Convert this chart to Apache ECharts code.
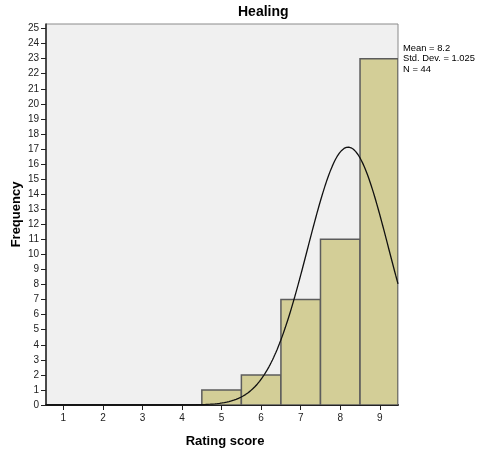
<!DOCTYPE html>
<html>
<head>
<meta charset="utf-8">
<script src="https://cdn.jsdelivr.net/npm/echarts@6/dist/echarts.min.js"></script>
<style>
  html, body { margin: 0; padding: 0; background: #fff; }
  #chart { width: 477px; height: 454px; }
</style>
</head>
<body>
<div id="chart"></div>
<script>
// Histogram of rating scores with a fitted normal curve
const scores = [1, 2, 3, 4, 5, 6, 7, 8, 9];
const frequencies = [0, 0, 0, 0, 1, 2, 7, 11, 23];
const yTicks = [0,1,2,3,4,5,6,7,8,9,10,11,12,13,14,15,16,17,18,19,20,21,22,23,24,25];
const xTicks = [1, 2, 3, 4, 5, 6, 7, 8, 9];
const meanValue = 8.2;
const stdDev = 1.025;
const sampleSize = 44;
const binWidth = 1;
const statsLines = ['Mean = 8.2', 'Std. Dev. = 1.025', 'N = 44'];

const xMin = 0.56, xMax = 9.46, yMax = 25.3;

// Normal density scaled to counts
function normalCount(x) {
  const z = (x - meanValue) / stdDev;
  return sampleSize * binWidth * Math.exp(-0.5 * z * z) / (stdDev * Math.sqrt(2 * Math.PI));
}
const curve = [];
const steps = 300;
for (let i = 0; i <= steps; i++) {
  const x = xMin + (xMax - xMin) * i / steps;
  curve.push([x, normalCount(x)]);
}

const bars = scores.map((s, i) => [s, frequencies[i]]).filter(d => d[1] > 0);

const chart = echarts.init(document.getElementById('chart'), null, { renderer: 'canvas' });
const font = '"Liberation Sans", Arial, sans-serif';

chart.setOption({
  animation: false,
  title: {
    text: 'Healing',
    left: 238, top: 5, padding: 0,
    textStyle: { fontFamily: font, fontSize: 14, fontWeight: 'bold', color: '#000' }
  },
  graphic: [{
    type: 'text', left: 403, top: 43,
    style: {
      text: statsLines.join('\n'),
      fontFamily: font, fontSize: 9.4, lineHeight: 10.5, fill: '#000'
    }
  }],
  grid: {
    left: 46, right: 79, top: 24, bottom: 49,
    outerBoundsMode: 'none', containLabel: false,
    show: true, backgroundColor: '#F0F0F0', borderColor: '#8a8a8a', borderWidth: 1
  },
  xAxis: {
    type: 'value', min: xMin, max: xMax,
    name: 'Rating score', nameLocation: 'middle', nameGap: 30, nameMoveOverlap: false,
    nameTextStyle: { fontFamily: font, fontSize: 13, fontWeight: 'bold', color: '#000', padding: [0, 0, 0, 6] },
    axisLine: { show: true, onZero: false, lineStyle: { color: '#222', width: 2 } },
    axisTick: { show: true, length: 5, customValues: xTicks, lineStyle: { color: '#222', width: 1 } },
    axisLabel: { customValues: xTicks, margin: 8, fontFamily: font, fontSize: 10, color: '#222' },
    splitLine: { show: false }
  },
  yAxis: {
    type: 'value', min: 0, max: yMax,
    name: 'Frequency', nameLocation: 'middle', nameGap: 23, nameRotate: 90, nameMoveOverlap: false,
    nameTextStyle: { fontFamily: font, fontSize: 13, fontWeight: 'bold', color: '#000' },
    axisLine: { show: true, lineStyle: { color: '#222', width: 1.5 } },
    axisTick: { show: true, length: 5, customValues: yTicks, lineStyle: { color: '#222', width: 1 } },
    axisLabel: { customValues: yTicks, margin: 7, fontFamily: font, fontSize: 10, color: '#222' },
    splitLine: { show: false }
  },
  series: [
    {
      type: 'custom',
      data: bars,
      clip: true,
      renderItem: function (params, api) {
        const x = api.value(0), y = api.value(1);
        const p0 = api.coord([x - binWidth / 2, 0]);
        const p1 = api.coord([x + binWidth / 2, y]);
        const shape = echarts.graphic.clipRectByRect(
          { x: p0[0], y: p1[1], width: p1[0] - p0[0], height: p0[1] - p1[1] },
          { x: params.coordSys.x, y: params.coordSys.y, width: params.coordSys.width, height: params.coordSys.height }
        );
        return shape && {
          type: 'rect', shape: shape,
          style: { fill: '#D3CE97', stroke: '#5c5c5c', lineWidth: 1.5 }
        };
      },
      z: 2
    },
    {
      type: 'line', data: curve, showSymbol: false, smooth: false,
      lineStyle: { color: '#111', width: 1.3 }, z: 3
    }
  ]
});
</script>
</body>
</html>
